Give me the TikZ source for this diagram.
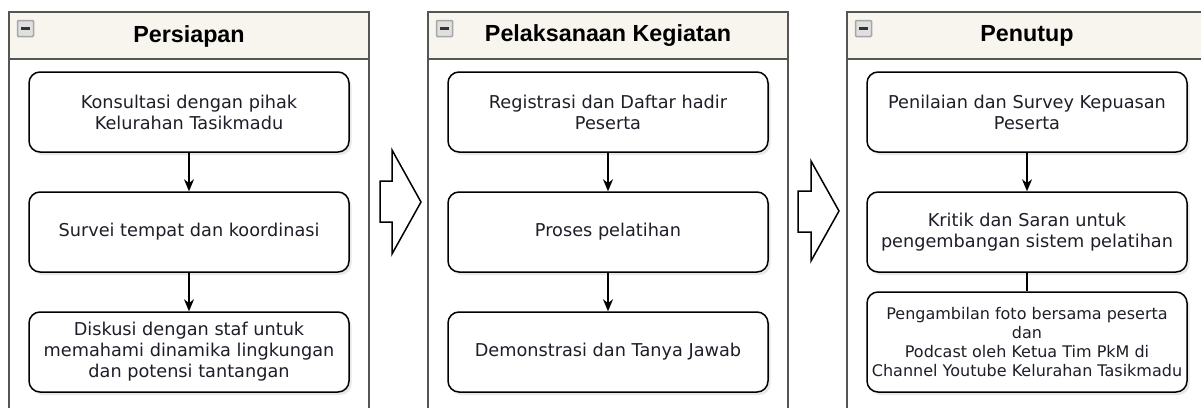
\documentclass[tikz,border=0pt]{standalone}
\usepackage{fontspec}
\setmainfont{DejaVu Sans}
\newfontfamily\judulfont{Liberation Sans}
\usetikzlibrary{arrows.meta,shadows}

\definecolor{krem}{HTML}{F8F5EE}
\definecolor{garis}{HTML}{555555}
\definecolor{teks}{HTML}{1E1E28}

\tikzset{
  kotak/.style={draw=black, line width=1.5pt, rounded corners=11pt, fill=white,
    minimum width=320pt, minimum height=80pt, align=center, text=teks,
    font=\fontsize{17.7}{21}\selectfont,
    drop shadow={shadow xshift=2.5pt, shadow yshift=-3pt, opacity=0.18}},
  panah/.style={line width=1.5pt, -{Stealth[length=12pt,width=10pt]}},
  lajur/.style={draw=garis, line width=1.5pt, fill=white},
  kepala/.style={draw=garis, line width=1.5pt, fill=krem},
  judul/.style={font=\judulfont\bfseries\fontsize{23.3}{27}\selectfont, text=black},
  blokpanah/.style={draw=black, line width=1.5pt, fill=white, line join=miter},
}

\begin{document}
\begin{tikzpicture}[x=1pt, y=-1pt]
            \useasboundingbox (0,0) rectangle (1201,407);
            \clip (0,0) rectangle (1201,407);

            % Lajur (swimlane)
            \foreach \xa in {9, 428, 847} {
                \draw[lajur] (\xa,12) rectangle ++(360,410);
                \draw[kepala] (\xa,12) rectangle ++(360,47);
                % Tombol minus
                \draw[gray!70, fill=gray!25, line width=1.5pt, rounded corners=1pt] (\xa+8.5,20.5) rectangle ++(16,16);
                \draw[black!80, line width=2.2pt] (\xa+12,28.5) -- ++(9,0);
            }

            % Judul
            \node[judul] (j1) at (189,36) {Persiapan};
            \node[judul] (j2) at (608,36) {Pelaksanaan Kegiatan};
            \node[judul] (j3) at (1027,36) {Penutup};

            % Persiapan
            \node[kotak] (s1) at (189,112) {Konsultasi dengan pihak\\Kelurahan Tasikmadu};
            \node[kotak] (s2) at (189,232) {Survei tempat dan koordinasi};
            \node[kotak] (s3) at (189,352) {Diskusi dengan staf untuk\\memahami dinamika lingkungan\\dan potensi tantangan};
            \draw[panah] (s1) -- (s2);
            \draw[panah] (s2) -- (s3);

            % Pelaksanaan
            \node[kotak] (k1) at (608,112) {Registrasi dan Daftar hadir\\Peserta};
            \node[kotak] (k2) at (608,232) {Proses pelatihan};
            \node[kotak] (k3) at (608,352) {Demonstrasi dan Tanya Jawab};
            \draw[panah] (k1) -- (k2);
            \draw[panah] (k2) -- (k3);

            % Penutup
            \node[kotak] (p1) at (1027,112) {Penilaian dan Survey Kepuasan\\Peserta};
            \node[kotak] (p2) at (1027,232) {Kritik dan Saran untuk\\pengembangan sistem pelatihan};
            \node[kotak, minimum height=100pt, font=\fontsize{16}{19}\selectfont] (p3) at (1027,342)
                {Pengambilan foto bersama peserta\\dan\\Podcast oleh Ketua Tim PkM di\\Channel Youtube Kelurahan Tasikmadu};
            \draw[panah] (p1) -- (p2);
            \draw[line width=1.5pt] (p2) -- (p3);

            % Panah blok antar lajur
            \draw[blokpanah] (380,181) -- (392,181) -- (392,150) -- (421,202) -- (392,254) -- (392,222) -- (380,222) -- cycle;
            \draw[blokpanah] (798,191) -- (811,191) -- (811,161) -- (839,211) -- (811,261) -- (811,232) -- (798,232) -- cycle;
        \end{tikzpicture}
\end{document}
